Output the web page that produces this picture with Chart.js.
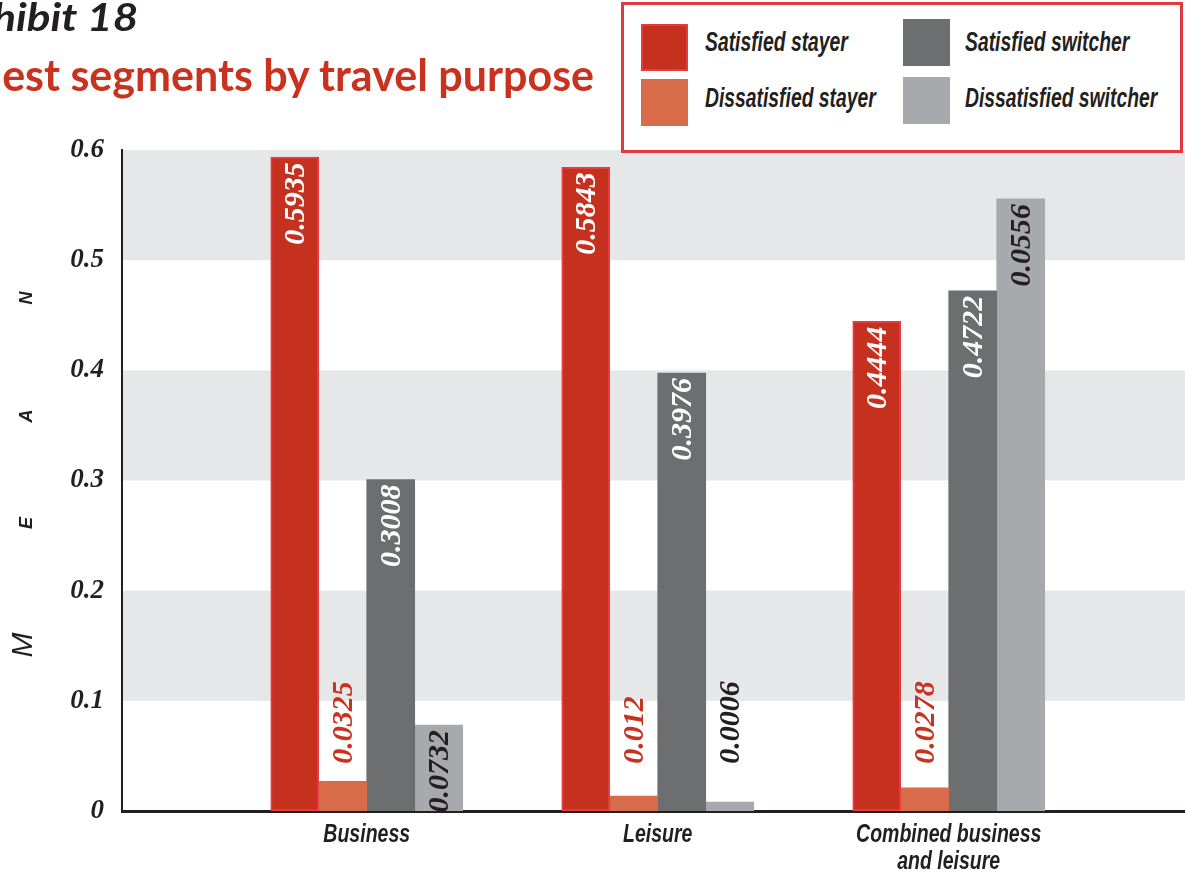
<!DOCTYPE html>
<html>
<head>
<meta charset="utf-8">
<script src="https://cdn.jsdelivr.net/npm/chart.js@4.4.0/dist/chart.umd.min.js"></script>
<style>
body { margin: 0; background: #fff; }
#wrap { position: relative; width: 1185px; height: 878px; overflow: hidden; }
.t1 { position: absolute; right: 1047px; top: -3px; font: italic bold 39px Lato, "Open Sans", sans-serif; color: #231f20; white-space: nowrap; line-height: 1; transform: scaleX(1.13); transform-origin: right center; }
.t2 { position: absolute; right: 591px; top: 53px; font: bold 43px Lato, "Open Sans", sans-serif; color: #c8321f; white-space: nowrap; line-height: 1; }
#leyenda { position: absolute; left: 621px; top: 2px; width: 556px; height: 145px; border: 3px solid #e03a3f; background: #fff; }
.caja { position: absolute; width: 47px; height: 47px; box-sizing: border-box; }
.txt { position: absolute; font: italic bold 28px "Liberation Sans", Arial, sans-serif; line-height: 1; color: #231f20; white-space: nowrap; transform: scaleX(0.69); transform-origin: left center; }
.letra { position: absolute; font-family: "Liberation Sans", sans-serif; font-style: italic; color: #231f20; transform: translate(-50%, -50%) rotate(-90deg); line-height: 1; }
</style>
</head>
<body>
<div id="wrap">
  <canvas id="grafico"></canvas>
  <div class="t1">Exhibit 18</div>
  <div class="t2">Guest segments by travel purpose</div>
  <div id="leyenda"></div>
  <div class="letra" style="left:22px; top:645px; font-size:30px;">M</div>
  <div class="letra" style="left:26px; top:523px; font-size:18px; font-weight:bold;">E</div>
  <div class="letra" style="left:26px; top:416px; font-size:18px; font-weight:bold;">A</div>
  <div class="letra" style="left:26px; top:298px; font-size:18px; font-weight:bold;">N</div>
</div>
<script>
const categorias = [["Business"], ["Leisure"], ["Combined business", "and leisure"]];
const series = ["Satisfied stayer", "Dissatisfied stayer", "Satisfied switcher", "Dissatisfied switcher"];

// alturas de las barras
const satisfiedStayer = [0.5935, 0.5843, 0.4444];
const dissatisfiedStayer = [0.027, 0.0135, 0.021];
const satisfiedSwitcher = [0.3008, 0.3976, 0.4722];
const dissatisfiedSwitcher = [0.078, 0.008, 0.5556];

// textos que aparecen sobre las barras
const etiquetas = [
    ["0.5935", "0.5843", "0.4444"],
    ["0.0325", "0.012", "0.0278"],
    ["0.3008", "0.3976", "0.4722"],
    ["0.0732", "0.0006", "0.0556"]
];

const yTicks = [0, 0.1, 0.2, 0.3, 0.4, 0.5, 0.6];

const colores = ["#c5301f", "#d86c4a", "#6d6e70", "#a8a9ac"];
const colorEtiqueta = ["#ffffff", "#c8321f", "#ffffff", "#231f20"];
const valores = [satisfiedStayer, dissatisfiedStayer, satisfiedSwitcher, dissatisfiedSwitcher];

// leyenda en html (2 columnas x 2 filas)
const leyenda = document.getElementById("leyenda");
const cajasPos = [[17, 19], [17, 74], [279, 14], [279, 72]];
const textosPos = [[81, 23], [81, 79], [341, 23], [341, 79]];
series.forEach((nombre, i) => {
    const caja = document.createElement("div");
    caja.className = "caja";
    caja.style.left = cajasPos[i][0] + "px";
    caja.style.top = cajasPos[i][1] + "px";
    caja.style.background = colores[i];
    if (i === 0) caja.style.border = "2px solid #e63b41";
    const txt = document.createElement("div");
    txt.className = "txt";
    txt.style.left = textosPos[i][0] + "px";
    txt.style.top = textosPos[i][1] + "px";
    txt.textContent = nombre;
    leyenda.appendChild(caja);
    leyenda.appendChild(txt);
});

// bandas grises del fondo
const bandas = {
    id: "bandas",
    beforeDraw(chart) {
        const { ctx, chartArea, scales } = chart;
        ctx.save();
        ctx.fillStyle = "#e6e7e9";
        for (let i = 1; i < yTicks.length; i += 2) {
            const y1 = scales.y.getPixelForValue(yTicks[i + 1]);
            const y2 = scales.y.getPixelForValue(yTicks[i]);
            ctx.fillRect(chartArea.left, y1, chartArea.right - chartArea.left, y2 - y1);
        }
        ctx.restore();
    }
};

// nombres de categoria, letra estrecha
const nombresX = {
    id: "nombresX",
    afterDraw(chart) {
        const { ctx, scales } = chart;
        ctx.save();
        ctx.fillStyle = "#231f20";
        ctx.font = "italic bold 26px 'Liberation Sans', Arial, sans-serif";
        ctx.textAlign = "center";
        ctx.textBaseline = "alphabetic";
        posCat.forEach((v, i) => {
            const x = scales.x.getPixelForValue(v);
            categorias[i].forEach((linea, k) => {
                ctx.save();
                ctx.translate(x, scales.x.top + 31 + k * 27);
                ctx.scale(0.75, 1);
                ctx.fillText(linea, 0, 0);
                ctx.restore();
            });
        });
        ctx.restore();
    }
};

// etiquetas giradas dentro o encima de las barras
const rotulos = {
    id: "rotulos",
    afterDatasetsDraw(chart) {
        const ctx = chart.ctx;
        const yScale = chart.scales.y;
        ctx.save();
        ctx.font = "italic bold 30px 'Liberation Serif', 'DejaVu Serif', serif";
        ctx.textBaseline = "middle";
        chart.data.datasets.forEach((ds, d) => {
            chart.getDatasetMeta(d).data.forEach((bar, i) => {
                const alto = bar.base - bar.y;
                ctx.save();
                ctx.fillStyle = colorEtiqueta[d];
                if (alto > 80) {
                    ctx.translate(bar.x, bar.y + 5);
                    ctx.rotate(-Math.PI / 2);
                    ctx.textAlign = "right";
                } else {
                    ctx.fillStyle = d === 3 ? "#231f20" : "#c8321f";
                    ctx.translate(bar.x, Math.min(bar.y - 16, yScale.getPixelForValue(0.043)));
                    ctx.rotate(-Math.PI / 2);
                    ctx.textAlign = "left";
                }
                ctx.fillText(etiquetas[d][i], 0, 2);
                ctx.restore();
            });
        });
        ctx.restore();
    }
};

const posCat = categorias.map((c, i) => i + 1);

const ctx = document.getElementById("grafico").getContext("2d");
new Chart(ctx, {
    type: "bar",
    data: {
        datasets: series.map((nombre, d) => ({
            label: nombre,
            data: valores[d].map((v, i) => ({ x: posCat[i], y: v })),
            backgroundColor: colores[d],
            borderColor: d === 0 ? "#e63b41" : colores[d],
            borderWidth: d === 0 ? 2 : 0,
            borderSkipped: false,
            barThickness: 48
        }))
    },
    options: {
        responsive: true,
        maintainAspectRatio: false,
        animation: false,
        layout: { padding: { top: 150, left: 0, right: 0, bottom: 0 } },
        plugins: {
            legend: { display: false },
            tooltip: { enabled: false }
        },
        scales: {
            x: {
                type: "linear",
                offset: false,
                min: 0.159,
                max: 3.812,
                grid: { display: false, drawTicks: false },
                border: { display: true, color: "#231f20", width: 3 },
                afterBuildTicks: (scale) => { scale.ticks = posCat.map(v => ({ value: v })); },
                afterFit: (scale) => { scale.height = 67; },
                ticks: { display: false }
            },
            y: {
                min: 0,
                max: 0.6,
                grid: { display: false, drawTicks: false },
                border: { display: true, color: "#231f20", width: 2 },
                afterBuildTicks: (scale) => { scale.ticks = yTicks.map(v => ({ value: v })); },
                afterFit: (scale) => { scale.width = 122; },
                ticks: {
                    padding: 18,
                    color: "#231f20",
                    font: { family: "'Liberation Serif', 'DejaVu Serif', serif", size: 27, style: "italic", weight: "bold" },
                    callback: (v) => v === 0 ? "0" : v.toFixed(1)
                }
            }
        }
    },
    plugins: [bandas, nombresX, rotulos]
});
</script>
</body>
</html>
